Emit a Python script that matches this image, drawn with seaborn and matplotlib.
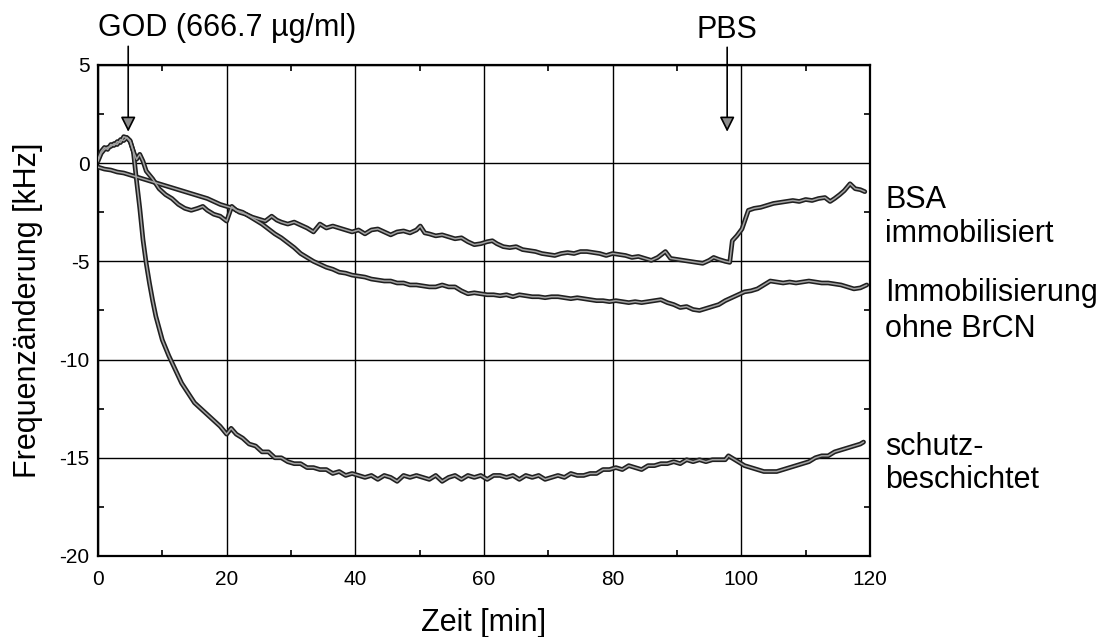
import matplotlib
matplotlib.use("Agg")
import matplotlib.pyplot as plt
from matplotlib.ticker import MultipleLocator
import seaborn as sns

# --- measured traces: frequency change [kHz] versus time [min] ---
t_schutz = [0.0, 0.5, 1.0, 1.5, 2.0, 2.5, 3.0, 3.5, 4.0, 4.5, 5.0, 5.5, 6.0, 6.5, 7.0,
            7.5, 8.0, 8.5, 9.0, 10.0, 11.0, 12.0, 13.0, 14.0, 15.0, 16.0, 17.0, 18.0,
            19.0, 20.0, 20.7, 21.5, 22.5, 23.5, 24.5, 25.5, 26.5, 27.5, 28.5, 29.5,
            30.5, 31.5, 32.5, 33.5, 34.5, 35.5, 36.5, 37.5, 38.5, 39.5, 40.5, 41.5,
            42.5, 43.5, 44.5, 45.5, 46.5, 47.5, 48.5, 49.5, 50.5, 51.5, 52.5, 53.5,
            54.5, 55.5, 56.5, 57.5, 58.5, 59.5, 60.5, 61.5, 62.5, 63.5, 64.5, 65.5,
            66.5, 67.5, 68.5, 69.5, 70.5, 71.5, 72.5, 73.5, 74.5, 75.5, 76.5, 77.5,
            78.5, 79.5, 80.5, 81.5, 82.5, 83.5, 84.5, 85.5, 86.5, 87.5, 88.5, 89.5,
            90.5, 91.5, 92.5, 93.5, 94.5, 95.5, 96.5, 97.5, 98.0, 98.5, 99.5, 100.5,
            101.5, 102.5, 103.5, 104.5, 105.5, 106.5, 107.5, 108.5, 109.5, 110.5,
            111.5, 112.5, 113.5, 114.5, 115.5, 116.5, 117.5, 118.5, 119.0]
f_schutz = [0.2, 0.6, 0.8, 0.7, 0.95, 0.9, 1.1, 1.05, 1.35, 1.3, 1.15, 0.6, -0.9, -2.3, -3.9,
            -5.1, -6.1, -7.0, -7.8, -9.0, -9.8, -10.5, -11.2, -11.7, -12.2, -12.5, -12.8, -13.1,
            -13.4, -13.8, -13.5, -13.8, -14.0, -14.3, -14.4, -14.7, -14.7, -15.0, -15.0, -15.2,
            -15.3, -15.3, -15.5, -15.5, -15.6, -15.6, -15.8, -15.7, -15.9, -15.8, -15.9, -16.0,
            -15.9, -16.1, -15.9, -16.0, -16.2, -15.9, -16.0, -15.9, -16.0, -16.1, -15.9, -16.2,
            -16.0, -15.9, -16.1, -15.9, -16.0, -15.9, -16.1, -15.9, -15.9, -16.0, -15.9, -16.1,
            -15.9, -16.0, -15.9, -16.1, -16.0, -15.9, -16.0, -15.8, -15.9, -15.9, -15.8, -15.8,
            -15.6, -15.6, -15.5, -15.6, -15.4, -15.5, -15.6, -15.4, -15.4, -15.3, -15.3, -15.2,
            -15.3, -15.1, -15.2, -15.1, -15.2, -15.1, -15.1, -15.1, -14.9, -15.0, -15.2, -15.4,
            -15.5, -15.6, -15.7, -15.7, -15.7, -15.6, -15.5, -15.4, -15.3, -15.2,
            -15.0, -14.9, -14.9, -14.7, -14.6, -14.5, -14.4, -14.3, -14.2]

t_ohne = [0.0, 0.5, 1.0, 1.5, 2.0, 2.5, 3.0, 3.5, 4.0, 4.5, 5.0, 5.5, 6.0, 6.5, 7.0, 7.5,
          8.5, 9.5, 10.5, 11.5, 12.5, 13.5, 14.5, 15.5, 16.3, 17.0, 18.0, 19.0, 20.0, 20.8,
          21.5, 22.5, 23.5, 24.5, 25.5, 26.5, 27.5, 28.5, 29.5, 30.5, 31.5, 32.5, 33.5,
          34.5, 35.5, 36.5, 37.5, 38.5, 39.5, 40.5, 41.5, 42.5, 43.5, 44.5, 45.5, 46.5,
          47.5, 48.5, 49.5, 50.5, 51.5, 52.5, 53.5, 54.5, 55.5, 56.5, 57.5, 58.5, 59.5,
          60.5, 61.5, 62.5, 63.5, 64.5, 65.5, 66.5, 67.5, 68.5, 69.5, 70.5, 71.5, 72.5,
          73.5, 74.5, 75.5, 76.5, 77.5, 78.5, 79.5, 80.5, 81.5, 82.5, 83.5, 84.5, 85.5,
          86.5, 87.5, 88.5, 89.5, 90.5, 91.5, 92.5, 93.5, 94.5, 95.5, 96.5, 97.5, 98.5,
          99.5, 100.5, 101.5, 102.5, 103.5, 104.5, 105.5, 106.5, 107.5, 108.5, 109.5,
          110.5, 111.5, 112.5, 113.5, 114.5, 115.5, 116.5, 117.5, 118.5, 119.5]
f_ohne = [0.1, 0.5, 0.7, 0.8, 0.85, 1.0, 0.95, 1.2, 1.15, 1.3, 1.1, 0.6, 0.2, 0.45, 0.1, -0.4,
          -0.8, -1.3, -1.6, -1.8, -2.1, -2.3, -2.4, -2.3, -2.2, -2.4, -2.6, -2.7, -2.95, -2.2,
          -2.4, -2.5, -2.7, -2.9, -3.1, -3.35, -3.6, -3.8, -4.05, -4.3, -4.6, -4.8, -5.0,
          -5.15, -5.3, -5.4, -5.55, -5.6, -5.7, -5.75, -5.8, -5.9, -5.95, -6.0, -6.0, -6.1,
          -6.1, -6.2, -6.2, -6.25, -6.3, -6.3, -6.2, -6.3, -6.3, -6.5, -6.65, -6.6, -6.65,
          -6.7, -6.7, -6.75, -6.7, -6.8, -6.7, -6.75, -6.8, -6.8, -6.85, -6.8, -6.8, -6.85,
          -6.9, -6.85, -6.9, -6.95, -7.0, -7.0, -7.05, -7.0, -7.05, -7.1, -7.05, -7.1, -7.05,
          -7.0, -6.95, -7.1, -7.2, -7.35, -7.3, -7.45, -7.5, -7.4, -7.3, -7.2, -7.0, -6.85,
          -6.7, -6.55, -6.5, -6.4, -6.2, -6.0, -6.05, -6.1, -6.05, -6.1, -6.05,
          -6.0, -6.05, -6.1, -6.1, -6.15, -6.2, -6.3, -6.4, -6.35, -6.2]

t_bsa = [0.0, 1.0, 2.0, 3.0, 4.0, 5.0, 6.0, 7.0, 8.0, 9.0, 10.0, 11.0, 12.0, 13.0, 14.0,
         15.0, 16.0, 17.0, 18.0, 19.0, 20.0, 21.0, 22.0, 23.0, 24.0, 25.0, 26.0, 27.0,
         27.8, 28.5, 29.5, 30.5, 31.5, 32.5, 33.5, 34.5, 35.5, 36.5, 37.5, 38.5, 39.5,
         40.5, 41.5, 42.5, 43.5, 44.5, 45.5, 46.5, 47.5, 48.5, 49.5, 50.1, 50.8, 51.5,
         52.5, 53.5, 54.5, 55.5, 56.5, 57.5, 58.5, 59.5, 60.5, 61.3, 62.0, 63.0, 64.0,
         65.0, 66.0, 67.0, 68.0, 69.0, 70.0, 71.0, 72.0, 73.0, 74.0, 75.0, 76.0, 77.0,
         78.0, 79.0, 80.0, 81.0, 82.0, 83.0, 84.0, 85.0, 86.0, 87.0, 88.2, 89.0, 90.0,
         91.0, 92.0, 93.0, 94.0, 95.0, 95.7, 96.5, 97.5, 98.2, 98.6, 99.3, 100.1, 101.1,
         102.0, 103.0, 104.0, 105.0, 106.0, 107.0, 108.0, 109.0, 110.0, 111.0, 112.0,
         113.0, 113.8, 114.5, 115.3, 116.0, 116.9, 117.7, 118.5, 119.2]
f_bsa = [-0.2, -0.3, -0.35, -0.45, -0.5, -0.6, -0.7, -0.8, -0.9, -1.0, -1.1, -1.2, -1.3, -1.4, -1.5,
         -1.6, -1.7, -1.8, -1.95, -2.1, -2.2, -2.3, -2.5, -2.6, -2.75, -2.85, -2.95, -2.7,
         -2.9, -3.0, -3.1, -3.0, -3.15, -3.3, -3.5, -3.1, -3.3, -3.2, -3.3, -3.4, -3.5,
         -3.4, -3.6, -3.4, -3.35, -3.5, -3.65, -3.5, -3.45, -3.55, -3.4, -3.2, -3.55, -3.6,
         -3.7, -3.65, -3.75, -3.85, -3.8, -4.0, -4.15, -4.1, -4.0, -3.95, -4.1, -4.25, -4.3,
         -4.25, -4.4, -4.45, -4.5, -4.6, -4.65, -4.7, -4.6, -4.55, -4.6, -4.5, -4.5, -4.55,
         -4.6, -4.7, -4.6, -4.65, -4.7, -4.8, -4.75, -4.85, -4.95, -4.8, -4.5, -4.85, -4.9,
         -4.95, -5.0, -5.05, -5.1, -4.95, -4.8, -4.9, -5.0, -5.05, -3.95, -3.7, -3.35, -2.4,
         -2.3, -2.25, -2.15, -2.05, -2.0, -1.95, -1.9, -1.95, -1.85, -1.9, -1.8,
         -1.75, -1.95, -1.8, -1.6, -1.4, -1.05, -1.3, -1.35, -1.45]

series = [(t_bsa, f_bsa), (t_ohne, f_ohne), (t_schutz, f_schutz)]

# curve captions on the right: (text, baseline value)
captions = [("BSA", -2.28), ("immobilisiert", -4.01),
            ("Immobilisierung", -7.0), ("ohne BrCN", -8.83),
            ("schutz-", -14.87), ("beschichtet", -16.55)]

sns.set_style("white")
plt.rcParams["font.family"] = ["Liberation Sans", "DejaVu Sans"]
plt.rcParams["axes.unicode_minus"] = False
plt.rcParams["text.color"] = "black"
plt.rcParams["axes.labelcolor"] = "black"
plt.rcParams["xtick.color"] = "black"
plt.rcParams["ytick.color"] = "black"

fig = plt.figure(figsize=(11.07, 6.37), dpi=100)
ax = fig.add_axes([0.0885, 0.1272, 0.6974, 0.7708])

for tt, ff in series:
    sns.lineplot(x=tt, y=ff, ax=ax, color="#202020", linewidth=3.4,
                 sort=False, estimator=None, zorder=3)
    sns.lineplot(x=tt, y=ff, ax=ax, color="#a3a3a3", linewidth=1.1,
                 sort=False, estimator=None, zorder=4)

ax.set_xlim(0, 120)
ax.set_ylim(-20, 5)
ax.xaxis.set_major_locator(MultipleLocator(20))
ax.xaxis.set_minor_locator(MultipleLocator(10))
ax.yaxis.set_major_locator(MultipleLocator(5))
ax.yaxis.set_minor_locator(MultipleLocator(2.5))
ax.grid(True, which="major", color="black", linewidth=1.0)
ax.set_axisbelow(True)
ax.tick_params(which="major", length=0, labelsize=15, colors="black")
ax.tick_params(axis="x", which="major", pad=10)
ax.tick_params(axis="y", which="major", pad=6)
ax.tick_params(which="minor", direction="in", length=4, width=1.2, color="black",
               top=True, right=True, bottom=True, left=True)
for s in ax.spines.values():
    s.set_color("black")
    s.set_linewidth(1.6)

ax.set_xlabel("Zeit [min]", fontsize=22, labelpad=14, color="black")
ax.set_ylabel("Frequenzänderung [kHz]", fontsize=22, labelpad=12, color="black")

# injection markers
arrow = dict(arrowstyle="-|>,head_length=0.9,head_width=0.45", fc="#8c8c8c",
             ec="black", lw=1.2, shrinkA=0, shrinkB=0, mutation_scale=10)
ax.annotate("", xy=(4.7, 1.6), xytext=(4.7, 5.95), arrowprops=arrow,
            annotation_clip=False)
ax.annotate("", xy=(97.8, 1.6), xytext=(97.8, 5.9), arrowprops=arrow,
            annotation_clip=False)
ax.text(20.0, 6.5, "GOD (666.7 µg/ml)", fontsize=22, ha="center", va="baseline",
        color="black")
ax.text(97.8, 6.35, "PBS", fontsize=22, ha="center", va="baseline", color="black")

for txt, yv in captions:
    ax.text(122.4, yv, txt, fontsize=22, ha="left", va="baseline", color="black")

fig.savefig("out.png", dpi=100, facecolor="white")
